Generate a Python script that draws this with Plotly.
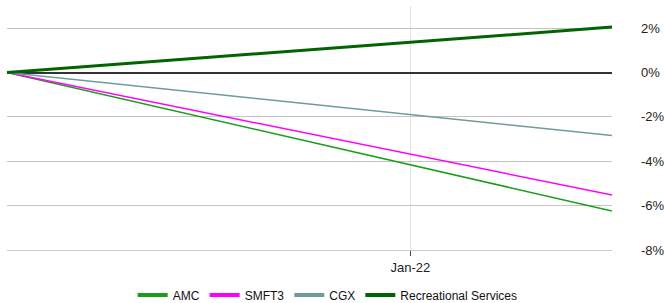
import plotly.graph_objects as go

dates = ["2021-12-02", "2022-01-16"]
series_names = ["AMC", "SMFT3", "CGX", "Recreational Services"]
series_values = {
    "AMC": [0.0, -6.24],
    "SMFT3": [0.0, -5.52],
    "CGX": [0.0, -2.84],
    "Recreational Services": [0.0, 2.05],
}
colors = {
    "AMC": "#1a9e1a",
    "SMFT3": "#ff00ff",
    "CGX": "#6e9c9c",
    "Recreational Services": "#006400",
}
widths = {"AMC": 1.5, "SMFT3": 1.5, "CGX": 1.5, "Recreational Services": 3}
y_ticks = [2, 0, -2, -4, -6, -8]
y_tick_labels = ["2%", "0%", "-2%", "-4%", "-6%", "-8%"]

fig = go.Figure()
for name in series_names:
    fig.add_trace(go.Scatter(
        x=dates, y=series_values[name], mode="lines", name=name,
        legendgroup=name, showlegend=False,
        line=dict(color=colors[name], width=widths[name]),
    ))
# legend entries with thicker swatches (no data drawn)
for name in series_names:
    fig.add_trace(go.Scatter(
        x=[None], y=[None], mode="lines", name=name, legendgroup=name,
        line=dict(color=colors[name], width=4), hoverinfo="skip",
    ))

fig.update_layout(
    width=664, height=303,
    margin=dict(l=7, r=52, t=6, b=53, autoexpand=False),
    plot_bgcolor="white", paper_bgcolor="white",
    font=dict(family="Liberation Sans, Arial, sans-serif", size=12, color="#222"),
    showlegend=True,
    legend=dict(orientation="h", x=0.53, xanchor="center",
                y=-0.125, yanchor="top", font=dict(size=12, color="#111"),
                itemwidth=30, tracegroupgap=0),
    xaxis=dict(
        type="date", range=[dates[0], dates[-1]], automargin=False,
        tick0="2022-01-01", dtick="M1", tickformat="%b-%y",
        showgrid=True, gridcolor="#e4e4e4", gridwidth=1,
        ticks="outside", ticklen=5, tickcolor="#444",
        showline=True, linecolor="#cccccc", linewidth=1,
        tickfont=dict(size=13), zeroline=False,
    ),
    yaxis=dict(
        side="right", range=[-8, 3], tickvals=y_ticks, ticktext=y_tick_labels,
        automargin=False,
        showgrid=True, gridcolor="#c4c4c4", gridwidth=1,
        zeroline=True, zerolinecolor="#333333", zerolinewidth=2,
        ticks="", ticklabelstandoff=28, tickfont=dict(size=13),
        showline=False,
    ),
)
fig.write_html("out.html", config={"displayModeBar": False},
               post_script="document.body.style.margin='0';")
